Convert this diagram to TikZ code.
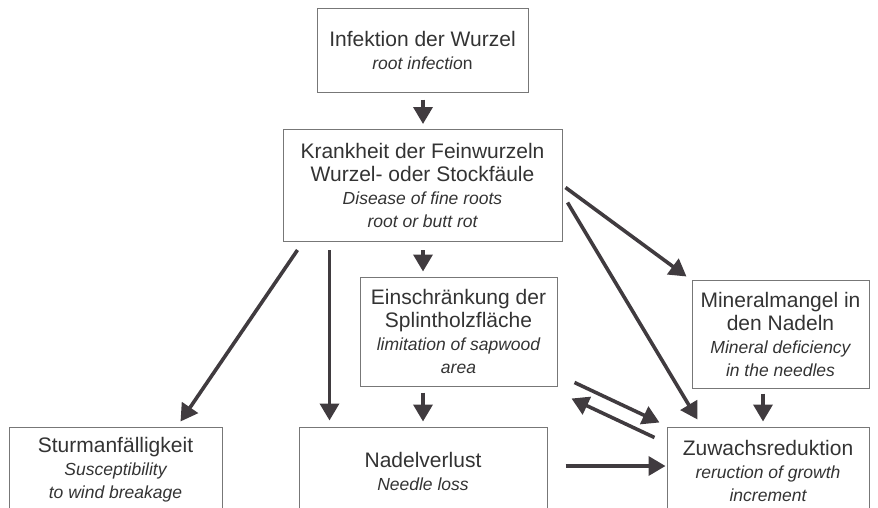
\documentclass[tikz,border=0pt]{standalone}
\usepackage{fontspec}
\setmainfont{Liberation Sans}
\usepackage{xcolor}
\usetikzlibrary{arrows.meta, calc}

\definecolor{boxgray}{HTML}{777777}
\definecolor{arrowgray}{HTML}{403B3F}
\definecolor{textgray}{HTML}{333333}

\newcommand{\engl}{\fontsize{17.5}{19.5}\selectfont\itshape}

\begin{document}
\begin{tikzpicture}[
  x=1pt, y=-1pt,
  >={Triangle[length=17pt, width=19pt]},
  every node/.style={align=center, inner sep=0pt, text=textgray, font=\fontsize{21}{23}\selectfont},
  box/.style={draw=boxgray, line width=1pt},
  arr/.style={->, line width=3.6pt, draw=arrowgray},
]
\useasboundingbox (0,0) rectangle (878,507);
\clip (0,0) rectangle (878,507);

\node[box, minimum width=211pt, minimum height=84pt] (inf) at (422.5,50) {Infektion der Wurzel\\\engl root infectio\upshape n};
\node[box, minimum width=279pt, minimum height=112pt] (krank) at (422.5,185.5) {Krankheit der Feinwurzeln\\Wurzel- oder Stockfäule\\\engl Disease of fine roots\\\engl root or butt rot};
\node[box, minimum width=197pt, minimum height=109pt] (einsch) at (458.5,331.5) {Einschränkung der\\Splintholzfläche\\\engl limitation of sapwood\\\engl area};
\node[box, minimum width=177pt, minimum height=108pt] (mineral) at (780.5,334) {Mineralmangel in\\den Nadeln\\\engl Mineral deficiency\\\engl in the needles};
\node[box, minimum width=213pt, minimum height=86pt] (sturm) at (115.5,470) {Sturmanfälligkeit\\\engl Susceptibility\\\engl to wind breakage};
\node[box, minimum width=248pt, minimum height=88pt] (nadel) at (423,471) {Nadelverlust\\\engl Needle loss};
\node[box, minimum width=202pt, minimum height=88pt] (zuwachs) at (768,471) {Zuwachsreduktion\\\engl reruction of growth\\\engl increment};

\draw[arr] ($(inf.south)+(0.5,7)$) -- ($(krank.north)+(0.5,-5)$);
\draw[arr] ($(krank.south)+(0.5,8)$) -- ($(einsch.north)+(-35.5,-5)$);
\draw[arr] ($(krank.south west)+(15,8)$) -- ($(sturm.north east)+(-42,-5)$);
\draw[arr] ($(krank.south west)+(47,8)$) -- ($(nadel.north west)+(31,-6)$);
\draw[arr] ($(einsch.south)+(-35.5,6)$) -- ($(nadel.north)+(0,-5)$);
\draw[arr] ($(krank.east)+(3,2)$) -- ($(mineral.north west)+(-5,-3)$);
\draw[arr] ($(krank.east)+(5,17)$) -- ($(zuwachs.north west)+(31,-7)$);
\draw[arr] ($(mineral.south)+(-17.5,5)$) -- ($(zuwachs.north)+(-5,-5)$);
\draw[arr] ($(einsch.south east)+(17,-4)$) -- ($(zuwachs.north west)+(-7,-4)$);
\draw[arr] ($(zuwachs.north west)+(-12,11)$) -- ($(einsch.south east)+(14,12)$);
\draw[arr] ($(nadel.east)+(18,-5)$) -- ($(zuwachs.west)+(-1,-5)$);
\end{tikzpicture}
\end{document}
